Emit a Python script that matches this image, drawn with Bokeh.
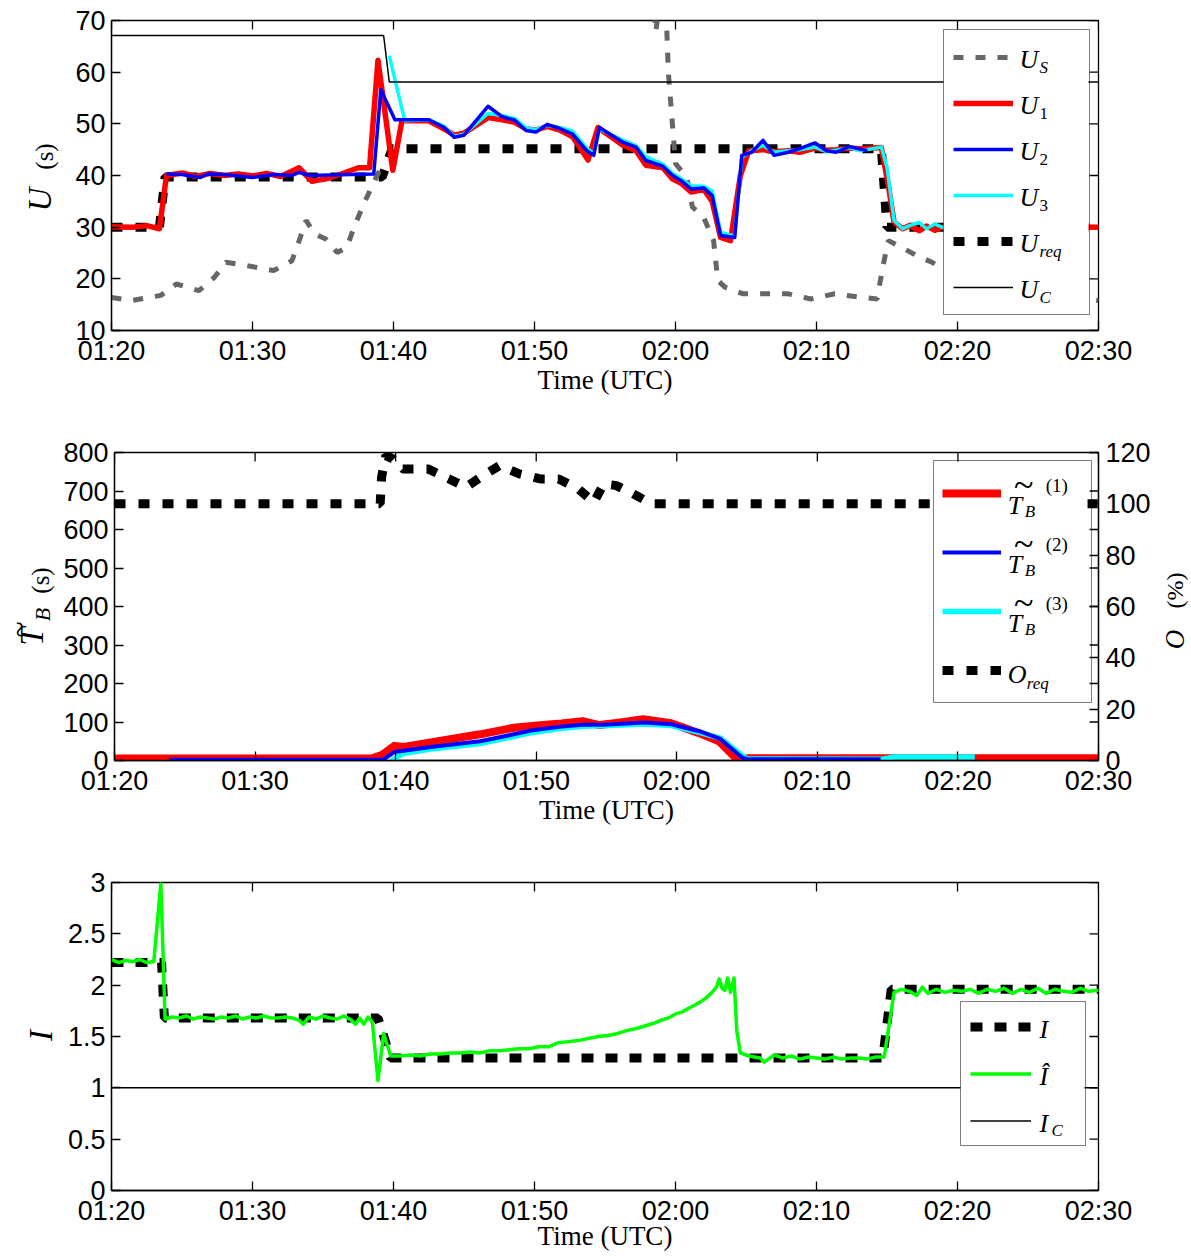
import numpy as np
from bokeh.plotting import figure
from bokeh.models import Range1d, LinearAxis, FixedTicker, Legend, LegendItem, Label, BoxAnnotation
from bokeh.core.properties import value
from bokeh.layouts import column, row
from bokeh.embed import file_html
from bokeh.resources import INLINE

NaN = float("nan")

# ---------------- data ----------------
# time axis: minutes after 01:20 UTC
x_ticks = [0, 10, 20, 30, 40, 50, 60, 70]
x_tick_labels = ["01:20", "01:30", "01:40", "01:50", "02:00", "02:10", "02:20", "02:30"]

u_ticks = [10, 20, 30, 40, 50, 60, 70]
tb_ticks = [0, 100, 200, 300, 400, 500, 600, 700, 800]
o_ticks = [0, 20, 40, 60, 80, 100, 120]
i_ticks = [0, 0.5, 1, 1.5, 2, 2.5, 3]
i_tick_labels = ["0", "0.5", "1", "1.5", "2", "2.5", "3"]

# Panel 1 : U (s)
us_t = [0, 1.4, 3.5, 4.6, 6.2, 7.3, 8.1, 9.5, 11.5, 12.8, 13.4, 13.8, 14.4, 15.2, 16.0, 16.7, 17.2,
        17.9, 18.6, 19.2, 19.5, 38.3, 38.6, 38.9, 39.3, 39.5, 39.8, 40.0, 40.8, 41.2, 42.0, 42.7, 43.0,
        43.5, 44.8, 46.4, 48.0, 49.6, 51.3, 52.9, 54.3, 54.7, 55.1, 56.1, 57.1, 58.2, 58.9, 61.0, 64.0,
        67.0, 70.0]
us_v = [16.4, 15.8, 16.8, 19.0, 17.7, 20.3, 23.2, 22.6, 21.6, 23.5, 28.1, 31.3, 28.7, 27.7, 25.1, 26.1, 30.0,
        34.5, 38.7, 42.0, NaN, 80.0, 67.8, 74.0, 74.0, 59.7, 49.3, 42.3, 39.7, 33.9, 31.9, 27.4, 19.7,
        18.4, 17.1, 17.1, 17.1, 16.1, 17.1, 16.5, 16.1, 22.3, 27.4, 26.0, 24.5, 23.2, 22.0, 20.5, 18.5,
        17.0, 15.8]

u1_t = [0, 1.5, 2.5, 3.4, 3.9, 5.0, 6.0, 7.0, 8.0, 9.0, 10.0, 11.0, 12.0, 13.3, 14.2, 15.3, 16.0, 17.5,
        18.3, 18.9, 19.95, 20.6, 22.5, 23.6, 24.3, 25.0, 26.7, 27.7, 28.6, 29.4, 30.1, 30.9, 31.8, 32.7,
        33.8, 34.5, 36.3, 37.2, 37.9, 39.1, 39.8, 40.4, 41.1, 42.0, 42.6, 43.2, 43.9, 44.6, 45.2, 46.2,
        47.0, 48.0, 48.8, 49.9, 50.7, 51.4, 52.3, 53.1, 54.0, 54.6, 55.1, 55.5, 56.1, 56.6, 57.3, 57.8,
        58.4, 58.9, 61.0, 64.0, 67.0, 70.0]
u1_v = [30.1, 30.0, 30.3, 29.7, 40.0, 40.5, 39.8, 40.4, 40.0, 40.3, 39.9, 40.4, 39.8, 41.5, 38.9, 39.4, 40.0, 41.5,
        41.5, 62.3, 41.0, 50.6, 50.6, 49.0, 47.8, 48.2, 51.2, 50.8, 50.3, 49.0, 48.8, 49.5, 48.8, 47.5,
        43.0, 49.3, 45.8, 44.8, 42.0, 41.5, 39.3, 38.5, 36.8, 37.3, 35.0, 28.0, 27.4, 40.0, 44.8, 45.0,
        44.6, 44.8, 44.5, 45.3, 44.9, 45.0, 45.3, 45.2, 45.3, 45.4, 38.0, 31.0, 29.7, 30.3, 29.3, 30.2,
        29.4, 30.0, 30.1, 29.9, 30.1, 30.0]

u2_t = [3.9, 5.0, 6.3, 6.8, 8.0, 10.0, 11.5, 12.8, 13.3, 14.0, 15.5, 17.0, 18.6, 19.1, 20.1, 22.5, 23.6,
        24.3, 25.0, 26.7, 27.7, 28.6, 29.4, 30.1, 30.9, 31.8, 32.7, 33.7, 34.2, 34.6, 36.3, 37.2, 37.9,
        39.1, 39.8, 40.4, 41.1, 42.0, 42.6, 43.2, 44.2, 44.7, 45.4, 46.2, 47.0, 48.0, 48.8, 49.9, 50.7,
        51.4, 52.3, 53.1, 53.6]
u2_v = [40.3, 40.2, 39.6, 40.3, 40.2, 39.6, 40.2, 40.0, 40.6, 40.0, 40.1, 40.2, 40.3, 56.6, 50.8, 50.8, 49.3,
        47.4, 47.8, 53.4, 51.4, 50.7, 48.7, 48.4, 49.9, 49.1, 48.0, 44.8, 43.9, 49.3, 46.4, 45.5, 42.9,
        41.8, 40.0, 39.0, 37.4, 37.6, 36.1, 28.4, 28.0, 43.9, 44.5, 46.8, 43.9, 44.5, 45.2, 46.3, 44.8,
        44.5, 45.6, 45.1, 44.8]

u3_t = [19.7, 20.8, 22.5, 23.6, 24.3, 25.0, 26.7, 27.7, 28.6, 29.4, 30.1, 30.9, 31.8, 32.7, 33.7, 34.2,
        34.6, 36.3, 37.2, 37.9, 39.1, 39.8, 40.4, 41.1, 42.0, 42.6, 43.2, 44.2, 44.7, 45.4, 46.2, 47.0,
        48.0, 48.8, 49.9, 50.7, 51.4, 52.3, 53.1, 54.0, 54.6, 55.0, 55.5, 56.1, 56.6, 57.3, 57.8, 58.4,
        58.9, 60.0, 61.0]
u3_v = [63.2, 50.6, 50.8, 49.5, 47.6, 48.0, 52.0, 51.6, 51.0, 49.2, 48.9, 49.7, 49.3, 48.6, 45.3, 44.3,
        49.0, 46.8, 45.8, 43.6, 42.2, 40.4, 39.4, 38.0, 37.9, 37.0, 29.0, 28.3, 43.5, 44.8, 45.8, 44.5,
        44.8, 45.0, 45.5, 44.6, 44.9, 45.4, 44.8, 45.2, 45.5, 41.6, 31.3, 29.7, 30.3, 30.9, 29.7, 30.6,
        30.0, 30.2, 30.0]

ureq_t = [0, 3.4, 3.8, 19.2, 19.9, 54.6, 55.0, 70]
ureq_v = [30.0, 30.0, 39.7, 39.7, 45.2, 45.2, 30.0, 30.0]

uc_t = [0, 19.3, 19.7, 70]
uc_v = [67.1, 67.1, 58.1, 58.1]

# Panel 2 : T_B (s) and O (%)
tb1_t = [0, 18.3, 19.0, 19.9, 20.6, 22.5, 26.0, 28.4, 30.7, 31.8, 33.3, 34.5, 36.0, 37.6, 39.6, 41.6,
         43.0, 44.1, 44.5, 45.0, 70.0]
tb1_v = [5, 5, 14, 38, 35, 47, 68, 85, 93, 96, 102, 92, 99, 107, 97, 71, 50, 10, 0, 6, 6]

tb2_t = [3.9, 19.1, 19.9, 22.5, 26.0, 28.4, 29.6, 31.8, 33.3, 34.8, 37.7, 39.6, 41.6, 43.1, 44.6, 45.0, 54.5]
tb2_v = [2, 2, 22, 35, 50, 68, 78, 88, 93, 93, 99, 94, 76, 56, 9, 3, 3]

tb3_t = [19.7, 20.5, 22.5, 26.0, 29.6, 31.8, 33.3, 34.8, 37.7, 39.6, 41.6, 43.1, 44.6, 45.0, 54.5, 55.5, 61.2]
tb3_v = [0, 18, 30, 44, 72, 84, 89, 90, 95, 91, 73, 58, 14, 4, 3, 9, 9]

oreq_t = [0, 18.9, 19.0, 19.3, 19.8, 20.5, 22.3, 23.8, 25.0, 26.2, 27.4, 28.8, 30.3, 31.6, 33.0, 34.1,
          34.8, 35.7, 36.9, 38.2, 70.0]
oreq_v = [100, 100, 110.4, 118.8, 117.5, 113.6, 113.6, 109.7, 106.5, 111.0, 114.9, 111.7, 109.7, 109.7,
          105.8, 100.6, 107.8, 107.1, 103.9, 100, 100]

# Panel 3 : I
i_t = [0, 3.55, 3.75, 18.9, 19.8, 54.7, 55.3, 70]
i_v = [2.22, 2.22, 1.68, 1.68, 1.29, 1.29, 1.96, 1.96]

ih_t = [0, 0.5, 1.0, 1.5, 2.0, 2.5, 3.0, 3.5, 3.8, 4.3, 4.8, 5.3, 5.8, 6.3, 6.8, 7.3, 7.8, 8.3, 8.8,
        9.3, 9.8, 10.3, 10.8, 11.3, 11.8, 12.3, 12.8, 13.3, 13.6, 14.0, 14.5, 15.0, 15.5, 16.0, 16.5,
        17.0, 17.3, 17.6, 17.9, 18.2, 18.5, 18.9, 19.3, 19.8, 20.5, 21.2, 21.9, 22.6, 23.3, 24.0, 24.7,
        25.4, 26.1, 26.8, 27.5, 28.2, 28.9, 29.6, 30.3, 31.0, 31.7, 32.4, 33.1, 33.8, 34.5, 35.2, 35.9,
        36.6, 37.3, 38.0, 38.5, 39.0, 39.5, 40.0, 40.5, 41.0, 41.4, 41.8, 42.2, 42.6, 42.9, 43.1, 43.3,
        43.5, 43.7, 43.9, 44.15, 44.35, 44.6, 45.2, 46.0, 46.3, 47.0, 47.6, 48.2, 48.8, 49.4, 50.0, 50.6,
        51.2, 51.8, 52.4, 53.0, 53.6, 54.2, 54.8, 55.5, 56.0, 56.6, 57.1, 57.5, 57.9, 58.5, 59.1, 59.7,
        60.3, 60.9, 61.5, 62.1, 62.7, 63.3, 63.9, 64.5, 65.1, 65.7, 66.3, 66.9, 67.5, 68.1, 68.7, 69.3,
        70.0]
ih_v = [2.25, 2.22, 2.24, 2.23, 2.25, 2.22, 2.23, 2.99, 1.67, 1.69, 1.68, 1.70, 1.67, 1.69, 1.68, 1.67,
        1.69, 1.68, 1.70, 1.67, 1.69, 1.68, 1.70, 1.68, 1.68, 1.69, 1.68, 1.66, 1.62, 1.69, 1.67, 1.70,
        1.68, 1.67, 1.70, 1.66, 1.62, 1.68, 1.62, 1.69, 1.64, 1.07, 1.53, 1.31, 1.31, 1.32, 1.31, 1.33,
        1.33, 1.34, 1.34, 1.35, 1.34, 1.36, 1.36, 1.37, 1.38, 1.38, 1.40, 1.40, 1.44, 1.45, 1.46, 1.48,
        1.50, 1.51, 1.53, 1.56, 1.58, 1.61, 1.63, 1.66, 1.68, 1.72, 1.74, 1.78, 1.81, 1.84, 1.88, 1.93,
        1.98, 2.06, 1.97, 1.95, 2.07, 1.93, 2.07, 1.55, 1.34, 1.31, 1.29, 1.25, 1.32, 1.29, 1.31, 1.28,
        1.30, 1.29, 1.28, 1.30, 1.28, 1.29, 1.29, 1.28, 1.30, 1.30, 1.93, 1.96, 1.94, 1.90, 1.98, 1.92,
        1.96, 1.93, 1.95, 1.94, 1.96, 1.92, 1.96, 1.94, 1.97, 1.92, 1.96, 1.93, 1.97, 1.92, 1.96, 1.94,
        1.93, 1.97, 1.94, 1.95]

ic_t = [0, 70]
ic_v = [1.0, 1.0]

# ---------------- layout ----------------
W = 1191
FL, FR = 111, 1098          # frame left/right in page pixels
FW = FR - FL
LW = 60                     # width of the strip holding the left axis titles
RW = 34                     # width of the strip holding the right axis title (panel 2)
X0, X1 = 0, 70
SERIF = "Liberation Serif"
SANS = "Liberation Sans"
HALF_PI = np.pi / 2

P1 = dict(top=20, bottom=330, y0=10, y1=70, page_top=0, height=430)
P2 = dict(top=452, bottom=760, y0=0, y1=800, page_top=430, height=430)
P3 = dict(top=882, bottom=1190, y0=0, y1=3, page_top=860, height=396)


def xd(px):
    return X0 + (px - FL) / FW * (X1 - X0)


def yd(P, py):
    return P["y1"] - (py - P["top"]) / (P["bottom"] - P["top"]) * (P["y1"] - P["y0"])


def style_axis(ax, standoff):
    ax.axis_line_color = "black"
    ax.axis_line_width = 1.3
    ax.major_tick_line_color = "black"
    ax.major_tick_line_width = 1.3
    ax.major_tick_in = 9
    ax.major_tick_out = 0
    ax.minor_tick_line_color = None
    ax.major_label_text_font = SANS
    ax.major_label_text_font_size = "27px"
    ax.major_label_text_color = "black"
    ax.major_label_standoff = standoff


def make_fig(P, yticks, ylabels=None, right_strip=0, xlabel_standoff=-8):
    top_b = P["top"] - P["page_top"]
    bot_b = P["page_top"] + P["height"] - P["bottom"]
    width = W - LW - right_strip
    p = figure(width=width, height=P["height"], x_range=Range1d(X0, X1), y_range=Range1d(P["y0"], P["y1"]),
               output_backend="svg", toolbar_location=None,
               min_border_left=FL - LW, min_border_right=width - (FR - LW),
               min_border_top=top_b, min_border_bottom=bot_b)
    p.grid.visible = False
    p.outline_line_color = "black"
    p.outline_line_width = 1.3
    p.background_fill_color = "white"
    p.border_fill_color = "white"
    xa = p.xaxis[0]
    style_axis(xa, 5)
    xa.ticker = FixedTicker(ticks=x_ticks)
    xa.major_label_overrides = dict(zip(x_ticks, x_tick_labels))
    xa.axis_label = "Time (UTC)"
    xa.axis_label_text_font = SERIF
    xa.axis_label_text_font_style = "normal"
    xa.axis_label_text_font_size = "27px"
    xa.axis_label_text_color = "black"
    xa.axis_label_standoff = xlabel_standoff
    ya = p.yaxis[0]
    style_axis(ya, 6)
    ya.ticker = FixedTicker(ticks=yticks)
    if ylabels is not None:
        ya.major_label_overrides = dict(zip(yticks, ylabels))
    # mirror ticks on top and right edges
    L = 9
    dy = L / (P["bottom"] - P["top"]) * (P["y1"] - P["y0"])
    dx = L / FW * (X1 - X0)
    p.segment(x0=x_ticks, y0=[P["y1"]] * len(x_ticks), x1=x_ticks, y1=[P["y1"] - dy] * len(x_ticks),
              line_color="black", line_width=1.3)
    p.segment(x0=[X1] * len(yticks), y0=yticks, x1=[X1 - dx] * len(yticks), y1=yticks,
              line_color="black", line_width=1.3)
    return p


def strip(P, x_left, width):
    """Blank strip beside a panel. Its frame is aligned (by the row) with the panel frame,
    so its y range spans the panel frame in (negated) page pixels; x is page pixels."""
    f = figure(width=width, height=P["height"], x_range=Range1d(x_left, x_left + width),
               y_range=Range1d(-P["bottom"], -P["top"]),
               output_backend="svg", toolbar_location=None, min_border=0,
               x_axis_location=None, y_axis_location=None)
    f.grid.visible = False
    f.outline_line_color = None
    f.background_fill_color = "white"
    f.border_fill_color = "white"
    return f


def slab(f, px, py, text, size, style="italic"):
    # rotated axis-title piece, centred on (px, py) page pixels
    f.add_layout(Label(x=px, y=-py, text=text, text_font=SERIF, text_font_size=f"{size}px",
                       text_font_style=style, text_align="center", text_baseline="middle",
                       angle=HALF_PI, text_color="black"))


def lab(p, P, px, py, text, size, style="italic", align="left"):
    p.add_layout(Label(x=xd(px), y=yd(P, py), text=text, text_font=SERIF, text_font_size=f"{size}px",
                       text_font_style=style, text_align=align, text_baseline="middle",
                       text_color="black", level="overlay"))


def add_legend(p, P, renderers, box, padding, spacing, gw, gh):
    left, top, right, bottom = box
    # white panel that hides the curves behind the legend
    p.add_layout(BoxAnnotation(left=xd(left), right=xd(right), top=yd(P, top), bottom=yd(P, bottom),
                               fill_color="white", fill_alpha=1.0, line_color=None, level="annotation"))
    lw = (right - left) - 2 * padding - gw - 7
    leg = Legend(items=[LegendItem(label=value(""), renderers=[r]) for r in renderers],
                 location=(left - FL, P["bottom"] - bottom), orientation="vertical",
                 padding=padding, spacing=spacing, glyph_width=gw, glyph_height=gh,
                 label_width=lw, label_height=gh, label_standoff=7, margin=0,
                 border_line_color="black", border_line_width=1.3,
                 background_fill_alpha=0.0)
    p.add_layout(leg)
    return [top + padding + gh / 2 + k * (gh + spacing) for k in range(len(renderers))]


# ---------------- panel 1 ----------------
p1 = make_fig(P1, u_ticks, xlabel_standoff=-4)
r_req = p1.line(ureq_t, ureq_v, line_color="black", line_width=9, line_dash="11 13")
r_us = p1.line(us_t, us_v, line_color="#666666", line_width=5, line_dash="10 12")
r_u1 = p1.line(u1_t, u1_v, line_color="#ff0000", line_width=5.5, line_join="round")
r_u3 = p1.line(u3_t, u3_v, line_color="#00ffff", line_width=3.5, line_join="round")
r_u2 = p1.line(u2_t, u2_v, line_color="#0000ff", line_width=3.5, line_join="round")
r_uc = p1.line(uc_t, uc_v, line_color="black", line_width=1.5)
c1 = add_legend(p1, P1, [r_us, r_u1, r_u2, r_u3, r_req, r_uc], (943, 31, 1088, 315), 9, 10, 60, 36)
for c, sub, st in zip(c1, ["S", "1", "2", "3", "req", "C"],
                      ["italic", "normal", "normal", "normal", "italic", "italic"]):
    lab(p1, P1, 1019, c + 1, "U", 26)
    lab(p1, P1, 1039, c + 9, sub, 17, style=st)
s1 = strip(P1, 0, LW)
slab(s1, 39, 199, "U", 33)
slab(s1, 44, 156, "(s)", 25, style="normal")

# ---------------- panel 2 ----------------
p2 = make_fig(P2, tb_ticks, right_strip=RW, xlabel_standoff=-4)
p2.extra_y_ranges = {"o": Range1d(0, 120)}
ra = LinearAxis(y_range_name="o", ticker=FixedTicker(ticks=o_ticks))
style_axis(ra, 7)
p2.add_layout(ra, "right")
r_o = p2.line(oreq_t, oreq_v, y_range_name="o", line_color="black", line_width=9, line_dash="11 13")
r_t1 = p2.line(tb1_t, tb1_v, line_color="#ff0000", line_width=8, line_join="round")
r_t3 = p2.line(tb3_t, tb3_v, line_color="#00ffff", line_width=5.5, line_join="round")
r_t2 = p2.line(tb2_t, tb2_v, line_color="#0000ff", line_width=4, line_join="round")
c2 = add_legend(p2, P2, [r_t1, r_t2, r_t3, r_o], (930, 462, 1087, 703), 8, 11, 59, 48)
for k in range(3):
    c = c2[k]
    lab(p2, P2, 1007, c + 11, "T", 26)
    lab(p2, P2, 1024, c + 17, "B", 17)
    lab(p2, P2, 1023, c - 10, "~", 36, style="normal", align="center")
    lab(p2, P2, 1045, c - 9, f"({k + 1})", 19, style="normal")
lab(p2, P2, 1007, c2[3] + 3, "O", 26)
lab(p2, P2, 1026, c2[3] + 12, "req", 17)
s2 = strip(P2, 0, LW)
slab(s2, 31, 636, "T", 33)
slab(s2, 42, 614, "B", 22)
slab(s2, 19, 629, "~", 30, style="normal")
slab(s2, 40, 580, "(s)", 25, style="normal")
s2r = strip(P2, W - RW, RW)
slab(s2r, 1174, 639, "O", 27)
slab(s2r, 1174, 590, "(%)", 24, style="normal")

# ---------------- panel 3 ----------------
p3 = make_fig(P3, i_ticks, i_tick_labels)
r_i = p3.line(i_t, i_v, line_color="black", line_width=9, line_dash="12 12")
r_ic = p3.line(ic_t, ic_v, line_color="black", line_width=1.5)
r_ih = p3.line(ih_t, ih_v, line_color="#00ff00", line_width=3.5, line_join="round")
c3 = add_legend(p3, P3, [r_i, r_ih, r_ic], (960, 1004, 1084, 1146), 9, 16, 61, 31)
lab(p3, P3, 1039, c3[0], "I", 26)
lab(p3, P3, 1039, c3[1], "\u00ce", 26)
lab(p3, P3, 1039, c3[2], "I", 26)
lab(p3, P3, 1051, c3[2] + 7, "C", 17)
s3 = strip(P3, 0, LW)
slab(s3, 40, 1035, "I", 33)

layout = column(row(s1, p1, spacing=0), row(s2, p2, s2r, spacing=0), row(s3, p3, spacing=0), spacing=0)
open("out.html", "w").write(file_html(layout, INLINE))
